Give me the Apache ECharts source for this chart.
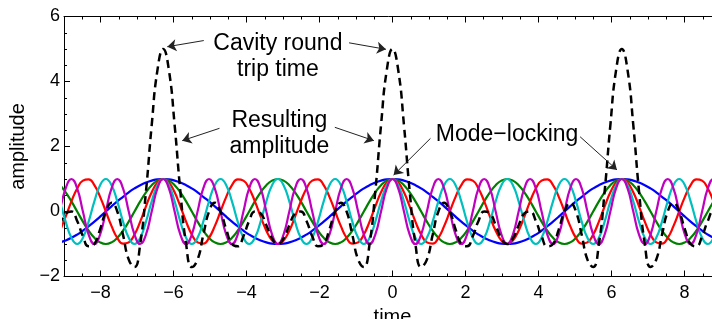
<!DOCTYPE html>
<html><head><meta charset="utf-8">
<script src="https://cdn.jsdelivr.net/npm/echarts@6/dist/echarts.min.js"></script>
<style>html,body{margin:0;padding:0;background:#fff}#c{width:712px;height:319px}</style>
</head><body><div id="c"></div>
<script>
// sample times (x)
const time = [-9.111,-8.954,-8.796,-8.639,-8.482,-8.325,-8.168,-8.011,-7.854,-7.697,-7.540,-7.383,-7.226,-7.069,-6.912,-6.754,-6.597,-6.440,-6.283,-6.126,-5.969,-5.812,-5.655,-5.498,-5.341,-5.184,-5.027,-4.869,-4.712,-4.555,-4.398,-4.241,-4.084,-3.927,-3.770,-3.613,-3.456,-3.299,-3.142,-2.985,-2.827,-2.670,-2.513,-2.356,-2.199,-2.042,-1.885,-1.728,-1.571,-1.414,-1.257,-1.100,-0.942,-0.785,-0.628,-0.471,-0.314,-0.157,
0,
0.157,0.314,0.471,0.628,0.785,0.942,1.100,1.257,1.414,1.571,1.728,1.885,2.042,2.199,2.356,2.513,2.670,2.827,2.985,3.142,3.299,3.456,3.613,3.770,3.927,4.084,4.241,4.398,4.555,4.712,4.869,5.027,5.184,5.341,5.498,5.655,5.812,5.969,6.126,6.283,6.440,6.597,6.754,6.912,7.069,7.226,7.383,7.540,7.697,7.854,8.011,8.168,8.325,8.482,8.639,8.796,8.954,9.111];

// mode 1 (blue)
const mode1 = [-.95,-.89,-.81,-.71,-.59,-.45,-.31,-.16,0,.16,.31,.45,.59,.71,.81,.89,.95,.99,
1,
.99,.95,.89,.81,.71,.59,.45,.31,.16,0,-.16,-.31,-.45,-.59,-.71,-.81,-.89,-.95,-.99,
-1,
-.99,-.95,-.89,-.81,-.71,-.59,-.45,-.31,-.16,0,.16,.31,.45,.59,.71,.81,.89,.95,.99,
1,
.99,.95,.89,.81,.71,.59,.45,.31,.16,0,-.16,-.31,-.45,-.59,-.71,-.81,-.89,-.95,-.99,
-1,
-.99,-.95,-.89,-.81,-.71,-.59,-.45,-.31,-.16,0,.16,.31,.45,.59,.71,.81,.89,.95,.99,
1,
.99,.95,.89,.81,.71,.59,.45,.31,.16,0,-.16,-.31,-.45,-.59,-.71,-.81,-.89,-.95];

// mode 2 (green)
const mode2 = [.81,.59,.31,0,-.31,-.59,-.81,-.95,-1,-.95,-.81,-.59,-.31,0,.31,.59,.81,.95,
1,
.95,.81,.59,.31,0,-.31,-.59,-.81,-.95,-1,-.95,-.81,-.59,-.31,0,.31,.59,.81,.95,
1,
.95,.81,.59,.31,0,-.31,-.59,-.81,-.95,-1,-.95,-.81,-.59,-.31,0,.31,.59,.81,.95,
1,
.95,.81,.59,.31,0,-.31,-.59,-.81,-.95,-1,-.95,-.81,-.59,-.31,0,.31,.59,.81,.95,
1,
.95,.81,.59,.31,0,-.31,-.59,-.81,-.95,-1,-.95,-.81,-.59,-.31,0,.31,.59,.81,.95,
1,
.95,.81,.59,.31,0,-.31,-.59,-.81,-.95,-1,-.95,-.81,-.59,-.31,0,.31,.59,.81];

// mode 3 (red)
const mode3 = [-.59,-.16,.31,.71,.95,.99,.81,.45,0,-.45,-.81,-.99,-.95,-.71,-.31,.16,.59,.89,
1,
.89,.59,.16,-.31,-.71,-.95,-.99,-.81,-.45,0,.45,.81,.99,.95,.71,.31,-.16,-.59,-.89,
-1,
-.89,-.59,-.16,.31,.71,.95,.99,.81,.45,0,-.45,-.81,-.99,-.95,-.71,-.31,.16,.59,.89,
1,
.89,.59,.16,-.31,-.71,-.95,-.99,-.81,-.45,0,.45,.81,.99,.95,.71,.31,-.16,-.59,-.89,
-1,
-.89,-.59,-.16,.31,.71,.95,.99,.81,.45,0,-.45,-.81,-.99,-.95,-.71,-.31,.16,.59,.89,
1,
.89,.59,.16,-.31,-.71,-.95,-.99,-.81,-.45,0,.45,.81,.99,.95,.71,.31,-.16,-.59];

// mode 4 (cyan)
const mode4 = [.31,-.31,-.81,-1,-.81,-.31,.31,.81,1,.81,.31,-.31,-.81,-1,-.81,-.31,.31,.81,
1,
.81,.31,-.31,-.81,-1,-.81,-.31,.31,.81,1,.81,.31,-.31,-.81,-1,-.81,-.31,.31,.81,
1,
.81,.31,-.31,-.81,-1,-.81,-.31,.31,.81,1,.81,.31,-.31,-.81,-1,-.81,-.31,.31,.81,
1,
.81,.31,-.31,-.81,-1,-.81,-.31,.31,.81,1,.81,.31,-.31,-.81,-1,-.81,-.31,.31,.81,
1,
.81,.31,-.31,-.81,-1,-.81,-.31,.31,.81,1,.81,.31,-.31,-.81,-1,-.81,-.31,.31,.81,
1,
.81,.31,-.31,-.81,-1,-.81,-.31,.31,.81,1,.81,.31,-.31,-.81,-1,-.81,-.31,.31];

// mode 5 (magenta)
const mode5 = [0,.71,1,.71,0,-.71,-1,-.71,0,.71,1,.71,0,-.71,-1,-.71,0,.71,
1,
.71,0,-.71,-1,-.71,0,.71,1,.71,0,-.71,-1,-.71,0,.71,1,.71,0,-.71,
-1,
-.71,0,.71,1,.71,0,-.71,-1,-.71,0,.71,1,.71,0,-.71,-1,-.71,0,.71,
1,
.71,0,-.71,-1,-.71,0,.71,1,.71,0,-.71,-1,-.71,0,.71,1,.71,0,-.71,
-1,
-.71,0,.71,1,.71,0,-.71,-1,-.71,0,.71,1,.71,0,-.71,-1,-.71,0,.71,
1,
.71,0,-.71,-1,-.71,0,.71,1,.71,0,-.71,-1,-.71,0,.71,1,.71,0];

// resulting amplitude (dashed black)
const resulting = [-.42,-.06,0,-.29,-.76,-1.07,-1,-.55,0,.27,0,-.72,-1.48,-1.71,-1,.62,2.66,4.35,
5,
4.35,2.66,.62,-1,-1.71,-1.48,-.72,0,.27,0,-.55,-1,-1.07,-.76,-.29,0,-.06,-.42,-.83,
-1,
-.83,-.42,-.06,0,-.29,-.76,-1.07,-1,-.55,0,.27,0,-.72,-1.48,-1.71,-1,.62,2.66,4.35,
5,
4.35,2.66,.62,-1,-1.71,-1.48,-.72,0,.27,0,-.55,-1,-1.07,-.76,-.29,0,-.06,-.42,-.83,
-1,
-.83,-.42,-.06,0,-.29,-.76,-1.07,-1,-.55,0,.27,0,-.72,-1.48,-1.71,-1,.62,2.66,4.35,
5,
4.35,2.66,.62,-1,-1.71,-1.48,-.72,0,.27,0,-.55,-1,-1.07,-.76,-.29,0,-.06,-.42];

const xTicks = [-8,-6,-4,-2,0,2,4,6,8];
const xMinorTicks = [-9,-8.5,-8,-7.5,-7,-6.5,-6,-5.5,-5,-4.5,-4,-3.5,-3,-2.5,-2,-1.5,-1,-0.5,0,0.5,1,1.5,2,2.5,3,3.5,4,4.5,5,5.5,6,6.5,7,7.5,8,8.5,9];
const yTicks = [-2,0,2,4,6];

// annotations: [text, x, y]
const notes = [
  ['Cavity round\ntrip time', -3.14, 4.75],
  ['Resulting\namplitude', -3.1, 2.4],
  ['Mode\u2212locking', 3.14, 2.36]
];
// arrows: [fromX, fromY, toX, toY]
const arrows = [
  [-5.17, 5.26, -6.17, 5.07],
  [-1.19, 5.19, -0.18, 4.99],
  [-4.74, 2.56, -5.76, 2.18],
  [-1.58, 2.59, -0.51, 2.18],
  [1.04, 2.25, 0.03, 1.12],
  [5.14, 2.30, 6.15, 1.28]
];

const FONT = "'Liberation Sans', Arial, Helvetica, sans-serif";
const minus = v => (v < 0 ? '\u2212' : '') + Math.abs(v);
const pts = ys => time.map((t, i) => [t, ys[i]]);

function xAx(pos, tickVals, len, showLine, showLabel, extra) {
  return Object.assign({
    type: 'value', position: pos, min: -9, max: 9, gridIndex: 0,
    axisLine: {show: showLine, onZero: false, lineStyle: {color: '#000', width: 1}},
    axisTick: {show: true, inside: true, length: len, customValues: tickVals, lineStyle: {color: '#000', width: 1}},
    axisLabel: showLabel ? {show: true, customValues: xTicks, formatter: minus, fontSize: 18, color: '#000', fontFamily: FONT, margin: 8} : {show: false},
    splitLine: {show: false}
  }, extra || {});
}

const chart = echarts.init(document.getElementById('c'), null, {renderer: 'canvas'});
const lineS = (name, ys, color, width, type) => ({
  name, type: 'line', data: pts(ys), smooth: true, showSymbol: false, clip: true,
  lineStyle: {color, width, type: type || 'solid'}, itemStyle: {color},
  emphasis: {disabled: true}, silent: true
});

const dashed = lineS('resulting', resulting, '#000', 2.5, [8, 5]);
dashed.markLine = {
  silent: true, symbol: ['none', 'arrow'], symbolSize: 9, animation: false,
  label: {show: false}, emphasis: {disabled: true},
  itemStyle: {color: '#222'},
  lineStyle: {color: '#222', width: 1, type: 'solid'},
  data: arrows.map(a => [{coord: [a[0], a[1]]}, {coord: [a[2], a[3]]}])
};
dashed.markPoint = {
  silent: true, symbol: 'circle', symbolSize: 0, animation: false,
  itemStyle: {color: 'rgba(0,0,0,0)'},
  label: {show: true, position: 'inside', formatter: p => p.name, color: '#000', fontSize: 23, lineHeight: 26, fontFamily: FONT, align: 'center'},
  data: notes.map(n => ({name: n[0], coord: [n[1], n[2]]}))
};

chart.setOption({
  animation: false,
  backgroundColor: '#fff',
  textStyle: {fontFamily: FONT},
  grid: {left: 64, top: 16.5, right: -9, bottom: 42.5, containLabel: false, outerBoundsMode: 'none'},
  xAxis: [
    xAx('bottom', xTicks, 6, true, true, {name: 'time', nameLocation: 'middle', nameGap: 27, nameTextStyle: {fontSize: 20, color: '#000', fontFamily: FONT}}),
    xAx('bottom', xMinorTicks, 3, false, false),
    xAx('top', xTicks, 6, true, false),
    xAx('top', xMinorTicks, 3, false, false)
  ],
  yAxis: [{
    type: 'value', position: 'left', min: -2, max: 6, interval: 2,
    axisLine: {show: true, onZero: false, lineStyle: {color: '#000', width: 1}},
    axisTick: {show: true, inside: true, length: 6, lineStyle: {color: '#000'}},
    minorTick: {show: true, splitNumber: 4, length: 3, lineStyle: {color: '#000'}},
    axisLabel: {formatter: minus, fontSize: 18, color: '#000', fontFamily: FONT, margin: 4},
    splitLine: {show: false}, minorSplitLine: {show: false},
    name: 'amplitude', nameLocation: 'middle', nameGap: 35,
    nameTextStyle: {fontSize: 20, color: '#000', fontFamily: FONT}
  }],
  series: [
    lineS('mode1', mode1, '#0000ff', 2.2),
    lineS('mode2', mode2, '#008000', 2.2),
    lineS('mode3', mode3, '#ff0000', 2.2),
    lineS('mode4', mode4, '#00bfbf', 2.2),
    lineS('mode5', mode5, '#bf00bf', 2.2),
    dashed
  ]
});
</script>
</body></html>
